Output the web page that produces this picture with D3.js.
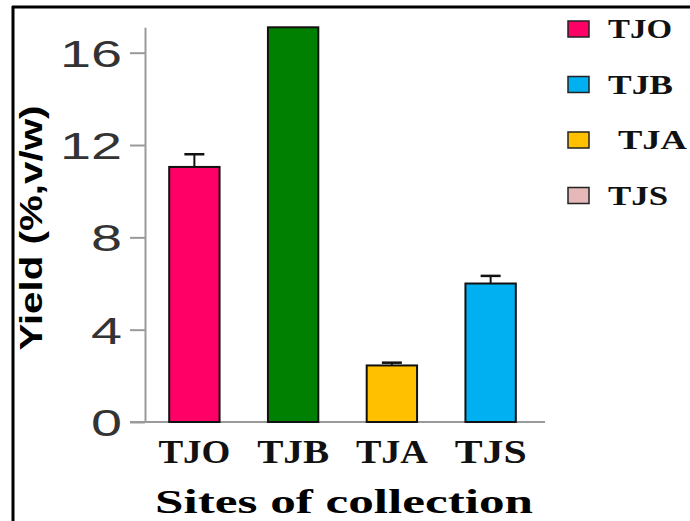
<!DOCTYPE html>
<html>
<head>
<meta charset="utf-8">
<script src="https://cdn.jsdelivr.net/npm/d3@7"></script>
<style>
  html, body { margin: 0; padding: 0; background: #fff; }
  svg { display: block; }
</style>
</head>
<body>
<svg id="chart" width="690" height="521"></svg>
<script>
// Essential-oil yield per collection site (mean with error)
const categories = ["TJO", "TJB", "TJA", "TJS"];
const yieldMean = [11.05, 17.1, 2.45, 6.0];
const yieldErr = [0.55, 0, 0.12, 0.33];
const barColors = ["#FF0066", "#008000", "#FFC000", "#00B0F0"];
const legendLabels = ["TJO", "TJB", " TJA", "TJS"];
const legendColors = ["#FF0066", "#00B0F0", "#FFC000", "#E6B9B8"];
const yTicks = [0, 4, 8, 12, 16];

const serif = "'Liberation Serif', 'Times New Roman', serif";
const sans = "'Liberation Sans', Arial, sans-serif";

const svg = d3.select("#chart");

// frame lines (top and left)
svg.append("line").attr("x1", 12).attr("x2", 690).attr("y1", 7).attr("y2", 7)
  .attr("stroke", "#000").attr("stroke-width", 3);
svg.append("line").attr("x1", 13).attr("x2", 13).attr("y1", 6).attr("y2", 521)
  .attr("stroke", "#000").attr("stroke-width", 3);

const x = d3.scaleBand().domain(categories).range([145, 540])
  .paddingInner(0.49).paddingOuter(0.245);
const y = d3.scaleLinear().domain([0, 17.1]).range([422, 27.3]);

// y axis
const yAxis = svg.append("g").attr("transform", "translate(145,0)")
  .call(d3.axisLeft(y).tickValues(yTicks).tickSize(15).tickSizeOuter(0).tickPadding(8));
yAxis.select(".domain").attr("stroke", "#9a9a9a").attr("stroke-width", 2);
yAxis.selectAll(".tick line").attr("stroke", "#9a9a9a").attr("stroke-width", 2);
yAxis.selectAll(".tick text")
  .attr("font-family", sans)
  .attr("font-size", 37).attr("fill", "#333")
  .attr("textLength", d => String(d).length * 31)
  .attr("lengthAdjust", "spacingAndGlyphs")
  .attr("dy", "0.36em");

// baseline
svg.append("line").attr("x1", 130).attr("x2", 545)
  .attr("y1", y(0)).attr("y2", y(0))
  .attr("stroke", "#9a9a9a").attr("stroke-width", 2);

// bars
svg.append("g").selectAll("rect").data(categories).join("rect")
  .attr("x", d => x(d))
  .attr("width", x.bandwidth())
  .attr("y", (d, i) => y(yieldMean[i]))
  .attr("height", (d, i) => y(0) - y(yieldMean[i]))
  .attr("fill", (d, i) => barColors[i])
  .attr("stroke", "#111").attr("stroke-width", 2);

// error bars
const eb = svg.append("g").selectAll("g")
  .data(categories.map((c, i) => ({ c, m: yieldMean[i], e: yieldErr[i] })).filter(d => d.e > 0))
  .join("g");
eb.append("line")
  .attr("x1", d => x(d.c) + x.bandwidth() / 2).attr("x2", d => x(d.c) + x.bandwidth() / 2)
  .attr("y1", d => y(d.m)).attr("y2", d => y(d.m + d.e))
  .attr("stroke", "#111").attr("stroke-width", 2);
eb.append("line")
  .attr("x1", d => x(d.c) + x.bandwidth() / 2 - 10).attr("x2", d => x(d.c) + x.bandwidth() / 2 + 10)
  .attr("y1", d => y(d.m + d.e)).attr("y2", d => y(d.m + d.e))
  .attr("stroke", "#111").attr("stroke-width", 2.5);

// category labels
svg.append("g").selectAll("text").data(categories).join("text")
  .attr("x", d => x(d) + x.bandwidth() / 2)
  .attr("y", 463)
  .attr("text-anchor", "middle")
  .attr("font-family", serif)
  .attr("font-weight", "bold").attr("font-size", 34).attr("fill", "#111")
  .attr("textLength", 72).attr("lengthAdjust", "spacingAndGlyphs")
  .text(d => d);

// axis titles
svg.append("text")
  .attr("x", 344).attr("y", 513)
  .attr("text-anchor", "middle")
  .attr("font-family", serif)
  .attr("font-weight", "bold").attr("font-size", 34).attr("fill", "#000")
  .attr("textLength", 378).attr("lengthAdjust", "spacingAndGlyphs")
  .text("Sites of collection");

svg.append("text")
  .attr("transform", "translate(42,228) rotate(-90)")
  .attr("text-anchor", "middle")
  .attr("font-family", sans)
  .attr("font-weight", "bold").attr("font-size", 32).attr("fill", "#000")
  .attr("textLength", 245).attr("lengthAdjust", "spacingAndGlyphs")
  .text("Yield (%,v/w)");

// legend
const lg = svg.append("g").selectAll("g").data(legendLabels).join("g")
  .attr("transform", (d, i) => `translate(568,${21 + i * 55.5})`);
lg.append("rect").attr("width", 21).attr("height", 16)
  .attr("fill", (d, i) => legendColors[i])
  .attr("stroke", "#222").attr("stroke-width", 1.5);
lg.append("text")
  .attr("x", (d, i) => d.startsWith(" ") ? 50 : 40)
  .attr("y", 17)
  .attr("font-family", serif)
  .attr("font-weight", "bold").attr("font-size", 28).attr("fill", "#111")
  .attr("textLength", (d, i) => [64, 65, 69, 60][i])
  .attr("lengthAdjust", "spacingAndGlyphs")
  .text(d => d.trim());
</script>
</body>
</html>
